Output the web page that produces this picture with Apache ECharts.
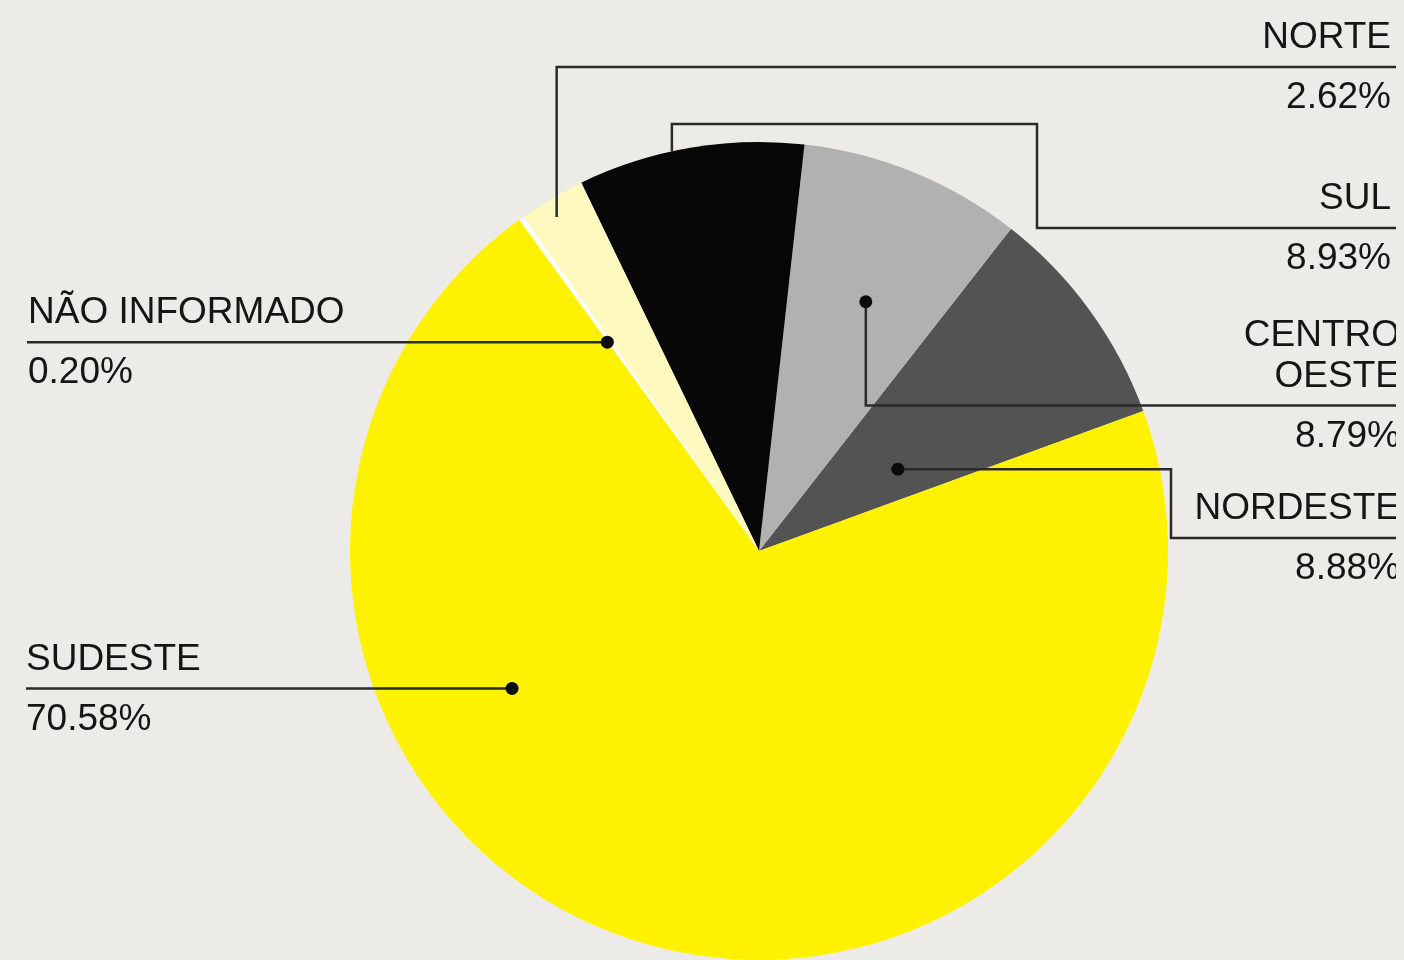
<!DOCTYPE html>
<html>
<head>
<meta charset="utf-8">
<script src="https://cdn.jsdelivr.net/npm/echarts@6/dist/echarts.min.js"></script>
<style>
    html, body { margin: 0; padding: 0; background: #ecebe7; }
    #chart { width: 1396px; height: 960px; }
</style>
</head>
<body>
<div id="chart"></div>
<script>
// Regional share, in the order slices run counter-clockwise from the start angle
const regions = ["NORDESTE", "CENTRO\nOESTE", "SUL", "NORTE", "NÃO INFORMADO", "SUDESTE"];
const shares = [8.88, 8.79, 8.93, 2.62, 0.2, 70.58];
const sliceColors = ["#535353", "#b1b1b1", "#070707", "#fefabf", "#ffffff", "#fff200"];

// Pie geometry
const center = [759, 551];
const radius = 409;

// Leader lines: anchor inside the slice (angle in degrees, fraction of radius),
// then a route of horizontal / vertical steps ending on the label rule
const annotations = [
    { angle: 30.5, frac: 0.394, dot: true, route: [["h", 1171], ["v", 538], ["h", 1396]], textX: 1400, align: "right" },
    { angle: 66.8, frac: 0.663, dot: true, route: [["v", 405.5], ["h", 1396]], textX: 1400, align: "right" },
    { angle: 102.3, frac: 1.0, dot: false, route: [["v", 124], ["h", 1037], ["v", 228], ["h", 1396]], textX: 1391, align: "right" },
    { angle: 121.2, frac: 0.955, dot: false, route: [["v", 67], ["h", 1396]], textX: 1391, align: "right" },
    { angle: 126.0, frac: 0.631, dot: true, route: [["h", 27]], textX: 28, align: "left" },
    { angle: 209.1, frac: 0.691, dot: true, route: [["h", 26]], textX: 26, align: "left" },
];

const font = '37px "Liberation Sans", Arial, sans-serif';
const inkColor = "#151515";

function buildGraphics() {
    const out = [];
    annotations.forEach((a, i) => {
        const rad = (a.angle * Math.PI) / 180;
        let x = center[0] + radius * a.frac * Math.cos(rad);
        let y = center[1] - radius * a.frac * Math.sin(rad);
        const anchor = [x, y];
        const pts = [anchor];
        for (const [dir, v] of a.route) {
            if (dir === "h") x = v;
            else y = v;
            pts.push([x, y]);
        }
        out.push({
            type: "polyline",
            z: 100,
            silent: true,
            shape: { points: pts },
            style: { stroke: "#2a2a2a", lineWidth: 2.5, fill: null },
        });
        if (a.dot) {
            out.push({
                type: "circle",
                z: 101,
                silent: true,
                shape: { cx: anchor[0], cy: anchor[1], r: 6.5 },
                style: { fill: "#0a0a0a" },
            });
        }
        // label rule is the last horizontal segment
        const ruleY = y;
        const lines = regions[i].split("\n");
        lines.forEach((ln, k) => {
            out.push({
                type: "text",
                z: 100,
                silent: true,
                x: a.textX,
                y: ruleY - 29 - 41 * (lines.length - 1 - k),
                style: {
                    text: ln,
                    font,
                    fill: inkColor,
                    textAlign: a.align,
                    textVerticalAlign: "middle",
                },
            });
        });
        out.push({
            type: "text",
            z: 100,
            silent: true,
            x: a.textX,
            y: ruleY + 31,
            style: {
                text: shares[i].toFixed(2) + "%",
                font,
                fill: inkColor,
                textAlign: a.align,
                textVerticalAlign: "middle",
            },
        });
    });
    return out;
}

const chart = echarts.init(document.getElementById("chart"), null, { renderer: "canvas" });
chart.setOption({
    backgroundColor: "transparent",
    animation: false,
    series: [
        {
            type: "pie",
            center: center,
            radius: radius,
            startAngle: 20,
            clockwise: false,
            silent: true,
            label: { show: false },
            labelLine: { show: false },
            data: regions.map((name, i) => ({
                name: name.replace("\n", " "),
                value: shares[i],
                itemStyle: { color: sliceColors[i] },
            })),
        },
    ],
    graphic: buildGraphics(),
});
</script>
</body>
</html>
